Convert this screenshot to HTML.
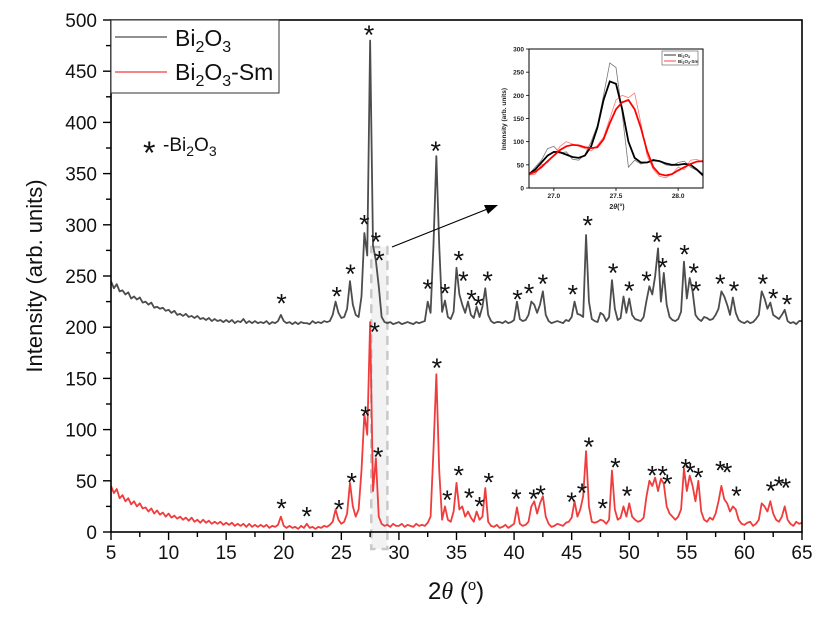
<!DOCTYPE html>
<html><head><meta charset="utf-8"><style>
html,body{margin:0;padding:0;background:#fff;}
svg{display:block;font-family:"Liberation Sans",sans-serif;}
</style></head><body>
<svg id="chart" width="822" height="622" viewBox="0 0 822 622" xmlns="http://www.w3.org/2000/svg">
<rect x="0" y="0" width="822" height="622" fill="#fff"/>
<g id="main"></g>
<g id="inset"></g>
</svg>
<script>
// ---- main chart data (x grid: 5 to 65 step 0.25) ----
const xStart = 5, xStep = 0.25;
const bi2o3 = [
245,238,242,235, 236,232,234,228, 230,227,229,224, 225,222,224,219, 220,218,219,216,
217,214,216,212, 213,211,213,210, 211,209,211,208, 209,207,209,206, 208,206,207,205,
207,205,207,204, 206,205,208,204, 206,204,206,204, 205,204,206,203, 205,204,206,212,
206,204,205,203, 205,203,205,204, 204,203,206,204, 205,204,206,205, 206,212,225,214,
209,210,218,245, 222,212,210,230, 292,270,480,280, 265,240,210,205, 204,205,203,204,
205,203,204,205, 204,203,205,204, 205,206,225,214, 280,367,280,215, 226,210,208,215,
258,232,222,214, 225,212,209,220, 210,220,238,212, 206,204,205,205, 204,206,204,205,
207,225,208,206, 207,212,225,222, 214,222,235,212, 206,204,205,206, 205,204,207,206,
210,225,213,212, 210,290,225,208, 206,205,214,212, 206,210,246,218, 207,209,230,214,
228,212,208,207, 206,210,226,240, 232,250,277,225, 253,222,210,207, 206,208,215,264,
228,248,235,212, 208,206,210,209, 207,208,212,218, 235,230,222,212, 229,214,207,205,
204,206,204,205, 208,212,235,228, 218,224,212,210, 208,212,217,206, 204,205,203,206,
206];
const bi2o3Sm = [
45,38,42,33, 36,30,33,27, 30,25,28,23, 24,20,23,18, 21,17,19,15,
18,14,16,13, 15,12,14,11, 14,10,12,9, 12,9,11,8, 10,8,10,7,
9,7,9,6, 8,6,8,5, 8,5,7,5, 7,5,7,4, 6,5,7,15,
6,4,6,4, 5,3,6,4, 8,4,5,3, 5,4,6,5, 7,10,22,12,
8,10,18,48, 25,15,22,60, 115,95,205,40, 72,15,8,6, 7,5,8,6,
6,8,5,7, 6,5,8,6, 7,6,9,15, 80,154,60,12, 25,12,10,20,
48,22,25,15, 20,14,10,20, 12,15,43,10, 6,5,7,4, 5,7,4,6,
8,24,8,6, 7,10,25,30, 18,28,35,15, 8,5,6,8, 7,6,9,10,
14,30,15,22, 35,79,25,10, 9,10,12,11, 8,12,60,22, 12,14,25,15,
28,15,12,10, 11,14,35,50, 45,53,40,52, 47,25,18,15, 12,15,22,62,
40,55,45,30, 50,20,12,10, 14,12,18,30, 45,32,28,20, 25,22,12,8,
7,9,10,6, 8,12,28,25, 20,30,18,12, 10,15,25,12, 8,6,10,8,
9];
const starBlackX = [19.8,24.6,25.8,27.0,27.4,28.0,28.3,32.5,33.2,34.0,35.2,35.6,36.3,36.9,37.7,40.3,41.3,42.5,45.1,46.4,48.6,50.0,51.5,52.4,52.9,54.8,55.6,55.8,57.9,59.1,61.6,62.5,63.7];
const starBlackY = [228,235,257,305,490,288,270,242,377,238,270,250,232,226,250,232,238,247,237,304,258,240,250,288,263,276,258,240,247,240,247,233,227];
const starRedX = [19.8,22.0,24.8,25.9,27.1,27.9,28.2,33.3,34.2,35.2,36.1,37.0,37.8,40.2,41.7,42.3,45.0,45.9,46.5,47.7,48.8,49.8,52.0,52.9,53.3,54.9,55.3,56.0,57.9,58.5,59.3,62.3,63.0,63.6];
const starRedY = [28,20,27,53,118,200,78,165,36,60,38,30,53,37,37,41,34,43,88,28,68,40,60,60,52,67,63,58,65,63,40,45,50,48];
const xTicks = [5,10,15,20,25,30,35,40,45,50,55,60,65];
const yTicks = [0,50,100,150,200,250,300,350,400,450,500];

// ---- inset data (x grid 26.8 to 28.2 step 0.05) ----
const insXStart = 26.8, insXStep = 0.05;
const insBlackFit = [30,40,55,70,78,77,72,67,65,70,90,130,190,230,225,170,100,65,55,55,60,58,53,50,50,52,50,40,28];
const insBlackRaw = [30,45,60,85,90,75,78,62,60,72,100,135,200,270,260,160,45,60,52,55,62,58,50,48,55,58,45,38,25];
const insRedFit = [30,35,45,58,70,82,90,93,92,88,86,88,105,140,170,185,190,170,130,80,45,30,27,30,38,45,52,57,58];
const insRedRaw = [28,30,50,55,70,90,100,95,90,85,80,92,110,150,190,200,195,205,140,70,40,25,22,30,45,40,60,62,55];
const insXTicks = [27.0,27.5,28.0];
const insYTicks = [0,50,100,150,200,250,300];

const NS = "http://www.w3.org/2000/svg";
function mk(parent, tag, attrs, text){
  const e = document.createElementNS(NS, tag);
  for (const k in attrs) e.setAttribute(k, attrs[k]);
  if (text !== undefined) e.textContent = text;
  parent.appendChild(e); return e;
}
const L=111, R=802, T=20, B=532;
const sx = v => L + (v-5)/(65-5)*(R-L);
const sy = v => B - v/500*(B-T);
const main = document.getElementById('main');

const hb = mk(main,'rect',{x:sx(27.6),y:247,width:sx(29)-sx(27.6),height:302,fill:'#f2f2f2',stroke:'#c8c8c8','stroke-width':2.5,'stroke-dasharray':'9,6'});



function linePath(arr, x0, step, fx, fy){
  let d='';
  arr.forEach((v,i)=>{ d += (i?'L':'M') + fx(x0+i*step).toFixed(2)+','+fy(v).toFixed(2); });
  return d;
}
const pb = mk(main,'path',{d:linePath(bi2o3,xStart,xStep,sx,sy),fill:'none',stroke:'#4d4d4d','stroke-width':1.8,'stroke-linejoin':'round'});


const pr = mk(main,'path',{d:linePath(bi2o3Sm,xStart,xStep,sx,sy),fill:'none',stroke:'#f03c3c','stroke-width':1.8,'stroke-linejoin':'round'});



const ar = mk(main,'line',{x1:392,y1:247,x2:490,y2:208,stroke:'#000','stroke-width':1.2});


const ah = mk(main,'polygon',{points:'498,205 484,205 488,214',fill:'#000'});



function stars(xs, ys, name){
  xs.forEach((x,i)=>{
    const t = mk(main,'text',{x:sx(x),y:sy(ys[i])+14,'font-size':27,'text-anchor':'middle',fill:'#111'},'*');
    
    
  });
}
stars(starBlackX, starBlackY, 'peak-marker-bi2o3');
stars(starRedX, starRedY, 'peak-marker-bi2o3-sm');

const fr = mk(main,'rect',{x:L,y:T,width:R-L,height:B-T,fill:'none',stroke:'#000','stroke-width':1.6});



for (let v=5; v<=65; v+=2.5){
  const major = (v%5===0);
  const tk = mk(main,'line',{x1:sx(v),y1:B,x2:sx(v),y2:B+(major?8:5),stroke:'#000','stroke-width':1.4});
  
  
}
xTicks.forEach(v=>{
  const t = mk(main,'text',{x:sx(v),y:559,'font-size':19,'text-anchor':'middle',fill:'#111'},String(v));
  
  
});
for (let v=0; v<=500; v+=25){
  const major = (v%50===0);
  const tk = mk(main,'line',{x1:L,y1:sy(v),x2:L-(major?8:5),y2:sy(v),stroke:'#000','stroke-width':1.4});
  
  
}
yTicks.forEach(v=>{
  const t = mk(main,'text',{x:97,y:sy(v)+7,'font-size':19,'text-anchor':'end',fill:'#111'},String(v));
  
  
});

const ins = document.getElementById('inset');
const iL=529, iR=703, iT=49, iB=188;
const ix = v => iL + (v-26.8)/(28.2-26.8)*(iR-iL);
const iy = v => iB - v/300*(iB-iT);
mk(ins,'rect',{x:iL,y:iT,width:iR-iL,height:iB-iT,fill:'#fff'});
[[insBlackRaw,'#777',0.8,'inset-bi2o3-raw'],[insRedRaw,'#f77',0.8,'inset-bi2o3-sm-raw'],[insBlackFit,'#000',1.8,'inset-bi2o3-fit'],[insRedFit,'#f00',1.8,'inset-bi2o3-sm-fit']].forEach(s=>{
  const p = mk(ins,'path',{d:linePath(s[0],insXStart,insXStep,ix,iy),fill:'none',stroke:s[1],'stroke-width':s[2]});
  
  
});
const ifr = mk(ins,'rect',{x:iL,y:iT,width:iR-iL,height:iB-iT,fill:'none',stroke:'#000','stroke-width':1});


insXTicks.forEach(v=>{
  mk(ins,'line',{x1:ix(v),y1:iB,x2:ix(v),y2:iB+3,stroke:'#000','stroke-width':0.8});
  const t = mk(ins,'text',{x:ix(v),y:iB+10,'font-size':6.5,'font-weight':'bold','text-anchor':'middle',fill:'#222'},v.toFixed(1));
  
  
});
insYTicks.forEach(v=>{
  mk(ins,'line',{x1:iL,y1:iy(v),x2:iL-3,y2:iy(v),stroke:'#000','stroke-width':0.8});
  const t = mk(ins,'text',{x:iL-5,y:iy(v)+2.5,'font-size':6.5,'font-weight':'bold','text-anchor':'end',fill:'#222'},String(v));
  
  
});
</script>
<svg style="position:absolute;left:0;top:0" width="822" height="622" xmlns="http://www.w3.org/2000/svg">
  <text x="617" y="209" font-size="7" font-weight="bold" text-anchor="middle" fill="#222">2<tspan font-style="italic">θ</tspan>(°)</text>
  <text transform="translate(506,119) rotate(-90)" font-size="6.5" font-weight="bold" text-anchor="middle" fill="#222">Intensity (arb. units)</text>
  <g>
    <rect x="662" y="51" width="36" height="14" fill="#fff" stroke="#555" stroke-width="0.6"/>
    <line x1="664" y1="55" x2="676" y2="55" stroke="#333" stroke-width="1"/>
    <text x="678" y="57" font-size="4.5" font-weight="bold" fill="#222">Bi<tspan font-size="3.5" dy="1">2</tspan><tspan dy="-1">O</tspan><tspan font-size="3.5" dy="1">3</tspan></text>
    <line x1="664" y1="61" x2="676" y2="61" stroke="#f44" stroke-width="1"/>
    <text x="678" y="63" font-size="4.5" font-weight="bold" fill="#222">Bi<tspan font-size="3.5" dy="1">2</tspan><tspan dy="-1">O</tspan><tspan font-size="3.5" dy="1">3</tspan><tspan dy="-1">-Sm</tspan></text>
  </g>
  <g>
    <rect x="111" y="20" width="168" height="73" fill="#fff" stroke="#333" stroke-width="1"/>
    <line x1="115" y1="37" x2="167" y2="37" stroke="#4d4d4d" stroke-width="1.2"/>
    <text x="175" y="46" font-size="23" fill="#111">Bi<tspan font-size="16" dy="6">2</tspan><tspan dy="-6">O</tspan><tspan font-size="16" dy="6">3</tspan></text>
    <line x1="115" y1="72" x2="167" y2="72" stroke="#f03c3c" stroke-width="1.2"/>
    <text x="175" y="80" font-size="23" fill="#111">Bi<tspan font-size="16" dy="6">2</tspan><tspan dy="-6">O</tspan><tspan font-size="16" dy="6">3</tspan><tspan dy="-6">-Sm</tspan></text>
  </g>
  <g>
    <text x="143" y="164" font-size="32" fill="#111">*</text>
    <text x="163" y="151" font-size="19" fill="#111">-Bi<tspan font-size="14" dy="5">2</tspan><tspan dy="-5">O</tspan><tspan font-size="14" dy="5">3</tspan></text>
  </g>
  <text transform="translate(42,276) rotate(-90)" font-size="22" text-anchor="middle" fill="#111">Intensity (arb. units)</text>
  <text x="428" y="599" font-size="24" fill="#111">2<tspan font-style="italic" font-family="Liberation Serif">θ</tspan> (<tspan font-size="15" dy="-9">o</tspan><tspan dy="9">)</tspan></text>
</svg>
</body></html>
